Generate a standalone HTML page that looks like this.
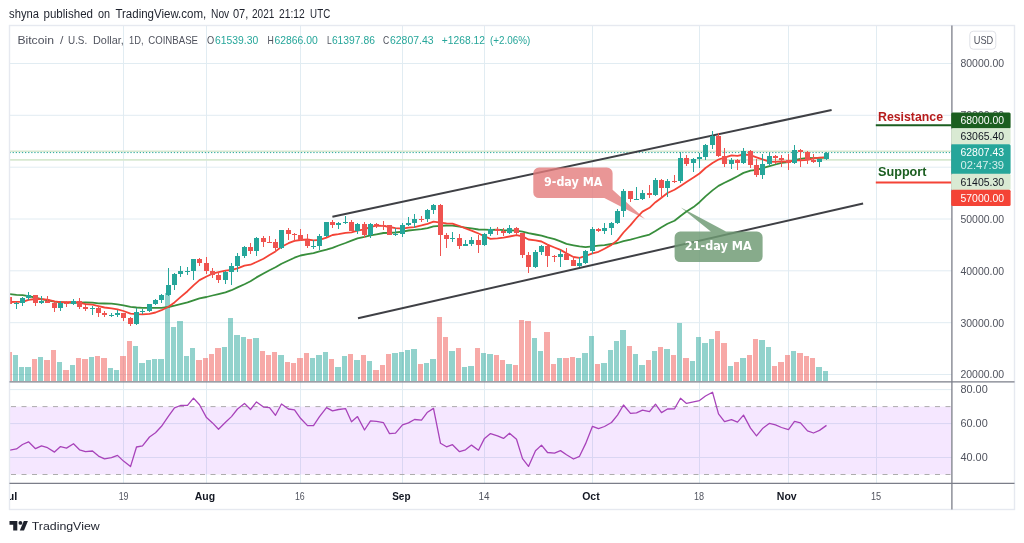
<!DOCTYPE html>
<html><head><meta charset="utf-8"><title>BTCUSD chart</title>
<style>html,body{margin:0;padding:0;background:#fff}body{width:1024px;height:543px;overflow:hidden;position:relative}</style></head>
<body>
<svg width="1024" height="543" viewBox="0 0 1024 543" style="position:absolute;left:0;top:0;font-family:'Liberation Sans', sans-serif">
<rect x="0" y="0" width="1024" height="543" fill="#fff"/>
<defs><clipPath id="cm"><rect x="10.0" y="26.0" width="941.9" height="355.9"/></clipPath><clipPath id="cr"><rect x="10.0" y="381.9" width="941.9" height="101.40000000000003"/></clipPath><clipPath id="ct"><rect x="10.0" y="483.3" width="941.9" height="26.19999999999999"/></clipPath></defs>
<line x1="123.5" y1="25.5" x2="123.5" y2="483.3" stroke="#e1ecf2" stroke-width="1"/>
<line x1="206.5" y1="25.5" x2="206.5" y2="483.3" stroke="#e1ecf2" stroke-width="1"/>
<line x1="300.5" y1="25.5" x2="300.5" y2="483.3" stroke="#e1ecf2" stroke-width="1"/>
<line x1="402.5" y1="25.5" x2="402.5" y2="483.3" stroke="#e1ecf2" stroke-width="1"/>
<line x1="484.5" y1="25.5" x2="484.5" y2="483.3" stroke="#e1ecf2" stroke-width="1"/>
<line x1="592.5" y1="25.5" x2="592.5" y2="483.3" stroke="#e1ecf2" stroke-width="1"/>
<line x1="699.5" y1="25.5" x2="699.5" y2="483.3" stroke="#e1ecf2" stroke-width="1"/>
<line x1="788.5" y1="25.5" x2="788.5" y2="483.3" stroke="#e1ecf2" stroke-width="1"/>
<line x1="876.5" y1="25.5" x2="876.5" y2="483.3" stroke="#e1ecf2" stroke-width="1"/>
<line x1="9.5" y1="374.5" x2="951.9" y2="374.5" stroke="#e1ecf2" stroke-width="1"/>
<line x1="9.5" y1="322.7" x2="951.9" y2="322.7" stroke="#e1ecf2" stroke-width="1"/>
<line x1="9.5" y1="270.8" x2="951.9" y2="270.8" stroke="#e1ecf2" stroke-width="1"/>
<line x1="9.5" y1="219.0" x2="951.9" y2="219.0" stroke="#e1ecf2" stroke-width="1"/>
<line x1="9.5" y1="167.2" x2="951.9" y2="167.2" stroke="#e1ecf2" stroke-width="1"/>
<line x1="9.5" y1="115.3" x2="951.9" y2="115.3" stroke="#e1ecf2" stroke-width="1"/>
<line x1="9.5" y1="63.5" x2="951.9" y2="63.5" stroke="#e1ecf2" stroke-width="1"/>
<line x1="9.5" y1="389.6" x2="951.9" y2="389.6" stroke="#e1ecf2" stroke-width="1"/>
<line x1="9.5" y1="423.6" x2="951.9" y2="423.6" stroke="#e1ecf2" stroke-width="1"/>
<line x1="9.5" y1="457.5" x2="951.9" y2="457.5" stroke="#e1ecf2" stroke-width="1"/>
<rect x="10.0" y="406.6" width="941.4" height="67.89999999999998" fill="#9915ff" fill-opacity="0.1"/>
<line x1="11" y1="406.6" x2="951.9" y2="406.6" stroke="#adadad" stroke-width="1" stroke-dasharray="5 5.5"/>
<line x1="11" y1="474.5" x2="951.9" y2="474.5" stroke="#adadad" stroke-width="1" stroke-dasharray="5 5.5"/>
<g clip-path="url(#cm)">
<rect x="6" y="352" width="6" height="29" fill="#ef5350" fill-opacity="0.5"/>
<rect x="13" y="355" width="5" height="26" fill="#26a69a" fill-opacity="0.5"/>
<rect x="19" y="367" width="5" height="14" fill="#26a69a" fill-opacity="0.5"/>
<rect x="25" y="367" width="6" height="14" fill="#26a69a" fill-opacity="0.5"/>
<rect x="32" y="359" width="5" height="22" fill="#ef5350" fill-opacity="0.5"/>
<rect x="38" y="357" width="5" height="24" fill="#26a69a" fill-opacity="0.5"/>
<rect x="44" y="360" width="6" height="21" fill="#ef5350" fill-opacity="0.5"/>
<rect x="51" y="350" width="5" height="31" fill="#ef5350" fill-opacity="0.5"/>
<rect x="57" y="362" width="5" height="19" fill="#26a69a" fill-opacity="0.5"/>
<rect x="63" y="370" width="6" height="11" fill="#ef5350" fill-opacity="0.5"/>
<rect x="70" y="365" width="5" height="16" fill="#26a69a" fill-opacity="0.5"/>
<rect x="76" y="358" width="5" height="23" fill="#ef5350" fill-opacity="0.5"/>
<rect x="82" y="359" width="6" height="22" fill="#ef5350" fill-opacity="0.5"/>
<rect x="89" y="357" width="5" height="24" fill="#26a69a" fill-opacity="0.5"/>
<rect x="95" y="356" width="5" height="25" fill="#ef5350" fill-opacity="0.5"/>
<rect x="101" y="358" width="6" height="23" fill="#ef5350" fill-opacity="0.5"/>
<rect x="108" y="368" width="5" height="13" fill="#26a69a" fill-opacity="0.5"/>
<rect x="114" y="370" width="5" height="11" fill="#26a69a" fill-opacity="0.5"/>
<rect x="120" y="356" width="6" height="25" fill="#ef5350" fill-opacity="0.5"/>
<rect x="127" y="341" width="5" height="40" fill="#ef5350" fill-opacity="0.5"/>
<rect x="133" y="346" width="5" height="35" fill="#26a69a" fill-opacity="0.5"/>
<rect x="139" y="363" width="6" height="18" fill="#26a69a" fill-opacity="0.5"/>
<rect x="146" y="360" width="5" height="21" fill="#26a69a" fill-opacity="0.5"/>
<rect x="152" y="359" width="5" height="22" fill="#26a69a" fill-opacity="0.5"/>
<rect x="158" y="359" width="6" height="22" fill="#26a69a" fill-opacity="0.5"/>
<rect x="165" y="293" width="5" height="88" fill="#26a69a" fill-opacity="0.5"/>
<rect x="171" y="327" width="5" height="54" fill="#26a69a" fill-opacity="0.5"/>
<rect x="177" y="321" width="6" height="60" fill="#26a69a" fill-opacity="0.5"/>
<rect x="184" y="356" width="5" height="25" fill="#26a69a" fill-opacity="0.5"/>
<rect x="190" y="348" width="5" height="33" fill="#26a69a" fill-opacity="0.5"/>
<rect x="196" y="360" width="6" height="21" fill="#ef5350" fill-opacity="0.5"/>
<rect x="203" y="358" width="5" height="23" fill="#ef5350" fill-opacity="0.5"/>
<rect x="209" y="354" width="5" height="27" fill="#ef5350" fill-opacity="0.5"/>
<rect x="215" y="348" width="6" height="33" fill="#ef5350" fill-opacity="0.5"/>
<rect x="222" y="347" width="5" height="34" fill="#26a69a" fill-opacity="0.5"/>
<rect x="228" y="318" width="5" height="63" fill="#26a69a" fill-opacity="0.5"/>
<rect x="234" y="335" width="6" height="46" fill="#26a69a" fill-opacity="0.5"/>
<rect x="241" y="337" width="5" height="44" fill="#26a69a" fill-opacity="0.5"/>
<rect x="247" y="339" width="5" height="42" fill="#ef5350" fill-opacity="0.5"/>
<rect x="253" y="338" width="6" height="43" fill="#26a69a" fill-opacity="0.5"/>
<rect x="260" y="351" width="5" height="30" fill="#ef5350" fill-opacity="0.5"/>
<rect x="266" y="355" width="5" height="26" fill="#ef5350" fill-opacity="0.5"/>
<rect x="272" y="352" width="5" height="29" fill="#ef5350" fill-opacity="0.5"/>
<rect x="278" y="355" width="6" height="26" fill="#26a69a" fill-opacity="0.5"/>
<rect x="285" y="362" width="5" height="19" fill="#ef5350" fill-opacity="0.5"/>
<rect x="291" y="363" width="5" height="18" fill="#ef5350" fill-opacity="0.5"/>
<rect x="297" y="358" width="6" height="23" fill="#ef5350" fill-opacity="0.5"/>
<rect x="304" y="353" width="5" height="28" fill="#ef5350" fill-opacity="0.5"/>
<rect x="310" y="358" width="5" height="23" fill="#26a69a" fill-opacity="0.5"/>
<rect x="316" y="355" width="6" height="26" fill="#26a69a" fill-opacity="0.5"/>
<rect x="323" y="352" width="5" height="29" fill="#26a69a" fill-opacity="0.5"/>
<rect x="329" y="359" width="5" height="22" fill="#ef5350" fill-opacity="0.5"/>
<rect x="335" y="367" width="6" height="14" fill="#26a69a" fill-opacity="0.5"/>
<rect x="342" y="356" width="5" height="25" fill="#26a69a" fill-opacity="0.5"/>
<rect x="348" y="354" width="5" height="27" fill="#ef5350" fill-opacity="0.5"/>
<rect x="354" y="360" width="6" height="21" fill="#26a69a" fill-opacity="0.5"/>
<rect x="361" y="355" width="5" height="26" fill="#ef5350" fill-opacity="0.5"/>
<rect x="367" y="361" width="5" height="20" fill="#26a69a" fill-opacity="0.5"/>
<rect x="373" y="370" width="6" height="11" fill="#ef5350" fill-opacity="0.5"/>
<rect x="380" y="365" width="5" height="16" fill="#ef5350" fill-opacity="0.5"/>
<rect x="386" y="354" width="5" height="27" fill="#ef5350" fill-opacity="0.5"/>
<rect x="392" y="353" width="6" height="28" fill="#26a69a" fill-opacity="0.5"/>
<rect x="399" y="352" width="5" height="29" fill="#26a69a" fill-opacity="0.5"/>
<rect x="405" y="350" width="5" height="31" fill="#26a69a" fill-opacity="0.5"/>
<rect x="411" y="349" width="6" height="32" fill="#26a69a" fill-opacity="0.5"/>
<rect x="418" y="364" width="5" height="17" fill="#ef5350" fill-opacity="0.5"/>
<rect x="424" y="363" width="5" height="18" fill="#26a69a" fill-opacity="0.5"/>
<rect x="430" y="359" width="6" height="22" fill="#26a69a" fill-opacity="0.5"/>
<rect x="437" y="317" width="5" height="64" fill="#ef5350" fill-opacity="0.5"/>
<rect x="443" y="337" width="5" height="44" fill="#ef5350" fill-opacity="0.5"/>
<rect x="449" y="351" width="6" height="30" fill="#26a69a" fill-opacity="0.5"/>
<rect x="456" y="348" width="5" height="33" fill="#ef5350" fill-opacity="0.5"/>
<rect x="462" y="367" width="5" height="14" fill="#26a69a" fill-opacity="0.5"/>
<rect x="468" y="366" width="6" height="15" fill="#26a69a" fill-opacity="0.5"/>
<rect x="475" y="348" width="5" height="33" fill="#ef5350" fill-opacity="0.5"/>
<rect x="481" y="353" width="5" height="28" fill="#26a69a" fill-opacity="0.5"/>
<rect x="487" y="354" width="6" height="27" fill="#26a69a" fill-opacity="0.5"/>
<rect x="494" y="355" width="5" height="26" fill="#ef5350" fill-opacity="0.5"/>
<rect x="500" y="360" width="5" height="21" fill="#ef5350" fill-opacity="0.5"/>
<rect x="506" y="364" width="6" height="17" fill="#26a69a" fill-opacity="0.5"/>
<rect x="513" y="365" width="5" height="16" fill="#ef5350" fill-opacity="0.5"/>
<rect x="519" y="320" width="5" height="61" fill="#ef5350" fill-opacity="0.5"/>
<rect x="525" y="321" width="6" height="60" fill="#ef5350" fill-opacity="0.5"/>
<rect x="532" y="338" width="5" height="43" fill="#26a69a" fill-opacity="0.5"/>
<rect x="538" y="351" width="5" height="30" fill="#26a69a" fill-opacity="0.5"/>
<rect x="544" y="332" width="6" height="49" fill="#ef5350" fill-opacity="0.5"/>
<rect x="551" y="364" width="5" height="17" fill="#ef5350" fill-opacity="0.5"/>
<rect x="557" y="358" width="5" height="23" fill="#26a69a" fill-opacity="0.5"/>
<rect x="563" y="358" width="6" height="23" fill="#ef5350" fill-opacity="0.5"/>
<rect x="570" y="357" width="5" height="24" fill="#ef5350" fill-opacity="0.5"/>
<rect x="576" y="358" width="5" height="23" fill="#26a69a" fill-opacity="0.5"/>
<rect x="582" y="353" width="6" height="28" fill="#26a69a" fill-opacity="0.5"/>
<rect x="589" y="336" width="5" height="45" fill="#26a69a" fill-opacity="0.5"/>
<rect x="595" y="364" width="5" height="17" fill="#ef5350" fill-opacity="0.5"/>
<rect x="601" y="363" width="6" height="18" fill="#26a69a" fill-opacity="0.5"/>
<rect x="608" y="350" width="5" height="31" fill="#26a69a" fill-opacity="0.5"/>
<rect x="614" y="341" width="5" height="40" fill="#26a69a" fill-opacity="0.5"/>
<rect x="620" y="330" width="6" height="51" fill="#26a69a" fill-opacity="0.5"/>
<rect x="627" y="346" width="5" height="35" fill="#ef5350" fill-opacity="0.5"/>
<rect x="633" y="354" width="5" height="27" fill="#26a69a" fill-opacity="0.5"/>
<rect x="639" y="365" width="6" height="16" fill="#26a69a" fill-opacity="0.5"/>
<rect x="646" y="360" width="5" height="21" fill="#ef5350" fill-opacity="0.5"/>
<rect x="652" y="351" width="5" height="30" fill="#26a69a" fill-opacity="0.5"/>
<rect x="658" y="347" width="5" height="34" fill="#ef5350" fill-opacity="0.5"/>
<rect x="664" y="349" width="6" height="32" fill="#26a69a" fill-opacity="0.5"/>
<rect x="671" y="355" width="5" height="26" fill="#ef5350" fill-opacity="0.5"/>
<rect x="677" y="323" width="5" height="58" fill="#26a69a" fill-opacity="0.5"/>
<rect x="683" y="358" width="6" height="23" fill="#ef5350" fill-opacity="0.5"/>
<rect x="690" y="361" width="5" height="20" fill="#26a69a" fill-opacity="0.5"/>
<rect x="696" y="337" width="5" height="44" fill="#26a69a" fill-opacity="0.5"/>
<rect x="702" y="343" width="6" height="38" fill="#26a69a" fill-opacity="0.5"/>
<rect x="709" y="339" width="5" height="42" fill="#26a69a" fill-opacity="0.5"/>
<rect x="715" y="331" width="5" height="50" fill="#ef5350" fill-opacity="0.5"/>
<rect x="721" y="343" width="6" height="38" fill="#ef5350" fill-opacity="0.5"/>
<rect x="728" y="366" width="5" height="15" fill="#26a69a" fill-opacity="0.5"/>
<rect x="734" y="362" width="5" height="19" fill="#ef5350" fill-opacity="0.5"/>
<rect x="740" y="358" width="6" height="23" fill="#26a69a" fill-opacity="0.5"/>
<rect x="747" y="355" width="5" height="26" fill="#ef5350" fill-opacity="0.5"/>
<rect x="753" y="339" width="5" height="42" fill="#ef5350" fill-opacity="0.5"/>
<rect x="759" y="340" width="6" height="41" fill="#26a69a" fill-opacity="0.5"/>
<rect x="766" y="347" width="5" height="34" fill="#26a69a" fill-opacity="0.5"/>
<rect x="772" y="366" width="5" height="15" fill="#ef5350" fill-opacity="0.5"/>
<rect x="778" y="362" width="6" height="19" fill="#ef5350" fill-opacity="0.5"/>
<rect x="785" y="355" width="5" height="26" fill="#ef5350" fill-opacity="0.5"/>
<rect x="791" y="351" width="5" height="30" fill="#26a69a" fill-opacity="0.5"/>
<rect x="797" y="353" width="6" height="28" fill="#ef5350" fill-opacity="0.5"/>
<rect x="804" y="356" width="5" height="25" fill="#ef5350" fill-opacity="0.5"/>
<rect x="810" y="358" width="5" height="23" fill="#ef5350" fill-opacity="0.5"/>
<rect x="816" y="367" width="6" height="14" fill="#26a69a" fill-opacity="0.5"/>
<rect x="823" y="371" width="5" height="10" fill="#26a69a" fill-opacity="0.5"/>
</g>
<line x1="9.5" y1="151.3" x2="951.9" y2="151.3" stroke="#d7e8d0" stroke-width="1.6"/>
<line x1="9.5" y1="159.9" x2="951.9" y2="159.9" stroke="#d7e8d0" stroke-width="1.6"/>
<line x1="9.5" y1="152.6" x2="951.9" y2="152.6" stroke="#26a69a" stroke-width="1" stroke-dasharray="1.3 1.8"/>
<line x1="332.4" y1="216.7" x2="831.6" y2="110" stroke="#3f4045" stroke-width="2" stroke-linecap="butt"/>
<line x1="358" y1="318.3" x2="863.1" y2="203.5" stroke="#3f4045" stroke-width="2" stroke-linecap="butt"/>
<path d="M539 167.6 H606.9 a5.7 5.7 0 0 1 5.7 5.7 V189.8 L645 219 L604.3 198.1 H539 a5.7 5.7 0 0 1 -5.7 -5.7 V173.3 a5.7 5.7 0 0 1 5.7 -5.7 Z" fill="#e37c7c" fill-opacity="0.8"/>
<text x="544" y="186" font-size="12" font-weight="bold" fill="#fff" style="font-family:'DejaVu Sans','Liberation Sans', sans-serif" textLength="58.4" lengthAdjust="spacingAndGlyphs">9-day MA</text>
<path d="M680.3 231.6 H710.8 L680.9 207.5 L726 231.6 H756.9 a5.7 5.7 0 0 1 5.7 5.7 V256.4 a5.7 5.7 0 0 1 -5.7 5.7 H680.3 a5.7 5.7 0 0 1 -5.7 -5.7 V237.3 a5.7 5.7 0 0 1 5.7 -5.7 Z" fill="#6f9a73" fill-opacity="0.83"/>
<text x="684.8" y="250" font-size="12" font-weight="bold" fill="#fff" style="font-family:'DejaVu Sans','Liberation Sans', sans-serif" textLength="66.9" lengthAdjust="spacingAndGlyphs">21-day MA</text>
<g clip-path="url(#cm)">
<path d="M9.5 294.1 L16.5 294.9 L22.5 295.1 L28.5 296.1 L35.5 297.7 L41.5 299.2 L47.5 300.3 L54.5 301.6 L60.5 302.1 L66.5 302.6 L73.5 302.9 L79.5 302.6 L85.5 302.5 L92.5 302.7 L98.5 303.4 L104.5 303.5 L111.5 303.6 L117.5 304.4 L123.5 305.3 L130.5 306.8 L136.5 307.5 L142.5 307.8 L149.5 307.8 L155.5 307.9 L161.5 307.9 L168.5 307.0 L174.5 305.7 L180.5 304.2 L187.5 302.4 L193.5 300.4 L199.5 298.4 L206.5 297.0 L212.5 295.5 L218.5 294.1 L225.5 292.4 L231.5 290.2 L237.5 287.4 L244.5 284.2 L250.5 281.2 L256.5 277.4 L263.5 273.5 L269.5 270.2 L275.5 267.2 L281.5 263.7 L288.5 260.5 L294.5 257.7 L300.5 255.5 L307.5 254.2 L313.5 253.1 L319.5 251.4 L326.5 249.7 L332.5 247.8 L338.5 245.5 L345.5 243.0 L351.5 240.6 L357.5 238.3 L364.5 236.9 L370.5 235.3 L376.5 234.3 L383.5 233.0 L389.5 232.9 L395.5 232.5 L402.5 231.7 L408.5 230.5 L414.5 229.9 L421.5 229.2 L427.5 228.1 L433.5 226.4 L440.5 225.8 L446.5 225.5 L452.5 225.6 L459.5 226.7 L465.5 227.6 L471.5 228.4 L478.5 229.5 L484.5 229.7 L490.5 229.9 L497.5 229.7 L503.5 230.1 L509.5 230.3 L516.5 230.6 L522.5 231.6 L528.5 233.2 L535.5 234.5 L541.5 235.6 L547.5 237.4 L554.5 239.2 L560.5 241.3 L566.5 243.9 L573.5 245.3 L579.5 246.4 L585.5 247.1 L592.5 246.3 L598.5 245.6 L604.5 245.1 L611.5 244.0 L617.5 243.0 L623.5 241.2 L630.5 239.7 L636.5 238.0 L642.5 236.4 L649.5 234.6 L655.5 231.0 L661.5 227.2 L667.5 223.8 L674.5 220.7 L680.5 216.0 L686.5 211.6 L693.5 207.1 L699.5 202.2 L705.5 196.4 L712.5 190.4 L718.5 185.9 L724.5 182.8 L731.5 179.4 L737.5 176.3 L743.5 172.9 L750.5 170.7 L756.5 169.9 L762.5 168.2 L769.5 166.2 L775.5 164.5 L781.5 162.9 L788.5 162.0 L794.5 160.2 L800.5 158.9 L807.5 157.9 L813.5 158.1 L819.5 157.9 L826.5 157.6" fill="none" stroke="#388e3c" stroke-width="1.8" stroke-linejoin="round"/>
<path d="M9.5 302.0 L16.5 301.9 L22.5 301.9 L28.5 299.8 L35.5 299.0 L41.5 299.2 L47.5 299.6 L54.5 301.4 L60.5 302.1 L66.5 302.1 L73.5 301.8 L79.5 302.7 L85.5 304.2 L92.5 304.7 L98.5 306.1 L104.5 307.5 L111.5 308.3 L117.5 309.4 L123.5 311.0 L130.5 313.6 L136.5 314.1 L142.5 314.4 L149.5 313.9 L155.5 312.5 L161.5 310.2 L168.5 306.8 L174.5 302.4 L180.5 297.1 L187.5 291.2 L193.5 285.4 L199.5 280.1 L206.5 276.5 L212.5 273.7 L218.5 272.1 L225.5 270.7 L231.5 269.9 L237.5 268.3 L244.5 265.6 L250.5 264.7 L256.5 262.0 L263.5 258.7 L269.5 255.0 L275.5 251.4 L281.5 246.8 L288.5 243.2 L294.5 240.8 L300.5 240.0 L307.5 239.5 L313.5 240.4 L319.5 239.8 L326.5 237.6 L332.5 235.0 L338.5 234.2 L345.5 232.8 L351.5 232.4 L357.5 230.6 L364.5 229.4 L370.5 226.9 L376.5 225.6 L383.5 225.9 L389.5 227.0 L395.5 228.2 L402.5 228.6 L408.5 227.7 L414.5 227.1 L421.5 225.4 L427.5 223.8 L433.5 221.6 L440.5 222.7 L446.5 223.3 L452.5 223.7 L459.5 226.0 L465.5 228.4 L471.5 230.6 L478.5 233.5 L484.5 236.2 L490.5 238.8 L497.5 238.3 L503.5 237.6 L509.5 236.5 L516.5 235.1 L522.5 236.4 L528.5 239.5 L535.5 240.3 L541.5 241.5 L547.5 244.6 L554.5 247.5 L560.5 249.9 L566.5 253.4 L573.5 257.0 L579.5 257.8 L585.5 256.0 L592.5 253.4 L598.5 251.8 L604.5 248.7 L611.5 244.9 L617.5 240.1 L623.5 232.5 L630.5 225.2 L636.5 218.0 L642.5 211.6 L649.5 207.8 L655.5 202.2 L661.5 197.7 L667.5 193.0 L674.5 189.7 L680.5 185.9 L686.5 182.0 L693.5 177.6 L699.5 173.5 L705.5 168.0 L712.5 163.1 L718.5 159.5 L724.5 157.6 L731.5 155.3 L737.5 155.9 L743.5 154.5 L750.5 155.2 L756.5 157.3 L762.5 159.4 L769.5 161.6 L775.5 161.8 L781.5 161.4 L788.5 161.6 L794.5 160.3 L800.5 160.4 L807.5 159.8 L813.5 158.3 L819.5 157.7 L826.5 157.4" fill="none" stroke="#f44336" stroke-width="1.8" stroke-linejoin="round"/>
<rect x="9" y="296" width="1" height="13" fill="#ef5350"/>
<rect x="7" y="297" width="5" height="7" fill="#ef5350"/>
<rect x="16" y="302" width="1" height="7" fill="#26a69a"/>
<rect x="14" y="303" width="5" height="1" fill="#26a69a"/>
<rect x="22" y="297" width="1" height="9" fill="#26a69a"/>
<rect x="20" y="298" width="5" height="5" fill="#26a69a"/>
<rect x="28" y="292" width="1" height="8" fill="#26a69a"/>
<rect x="26" y="295" width="5" height="3" fill="#26a69a"/>
<rect x="35" y="295" width="1" height="11" fill="#ef5350"/>
<rect x="33" y="295" width="5" height="8" fill="#ef5350"/>
<rect x="41" y="296" width="1" height="8" fill="#26a69a"/>
<rect x="39" y="301" width="5" height="2" fill="#26a69a"/>
<rect x="47" y="296" width="1" height="7" fill="#ef5350"/>
<rect x="45" y="301" width="5" height="2" fill="#ef5350"/>
<rect x="54" y="302" width="1" height="10" fill="#ef5350"/>
<rect x="52" y="303" width="5" height="5" fill="#ef5350"/>
<rect x="60" y="301" width="1" height="10" fill="#26a69a"/>
<rect x="58" y="303" width="5" height="5" fill="#26a69a"/>
<rect x="66" y="301" width="1" height="6" fill="#ef5350"/>
<rect x="64" y="303" width="5" height="1" fill="#ef5350"/>
<rect x="73" y="299" width="1" height="6" fill="#26a69a"/>
<rect x="71" y="301" width="5" height="3" fill="#26a69a"/>
<rect x="79" y="298" width="1" height="11" fill="#ef5350"/>
<rect x="77" y="301" width="5" height="6" fill="#ef5350"/>
<rect x="85" y="305" width="1" height="6" fill="#ef5350"/>
<rect x="83" y="307" width="5" height="2" fill="#ef5350"/>
<rect x="92" y="306" width="1" height="9" fill="#26a69a"/>
<rect x="90" y="308" width="5" height="1" fill="#26a69a"/>
<rect x="98" y="306" width="1" height="11" fill="#ef5350"/>
<rect x="96" y="308" width="5" height="5" fill="#ef5350"/>
<rect x="104" y="311" width="1" height="6" fill="#ef5350"/>
<rect x="102" y="313" width="5" height="2" fill="#ef5350"/>
<rect x="111" y="313" width="1" height="4" fill="#26a69a"/>
<rect x="109" y="315" width="5" height="1" fill="#26a69a"/>
<rect x="117" y="310" width="1" height="7" fill="#26a69a"/>
<rect x="115" y="313" width="5" height="2" fill="#26a69a"/>
<rect x="123" y="313" width="1" height="8" fill="#ef5350"/>
<rect x="121" y="313" width="5" height="5" fill="#ef5350"/>
<rect x="130" y="317" width="1" height="9" fill="#ef5350"/>
<rect x="128" y="318" width="5" height="6" fill="#ef5350"/>
<rect x="136" y="308" width="1" height="17" fill="#26a69a"/>
<rect x="134" y="312" width="5" height="12" fill="#26a69a"/>
<rect x="142" y="309" width="1" height="5" fill="#26a69a"/>
<rect x="140" y="311" width="5" height="1" fill="#26a69a"/>
<rect x="149" y="304" width="1" height="8" fill="#26a69a"/>
<rect x="147" y="304" width="5" height="7" fill="#26a69a"/>
<rect x="155" y="299" width="1" height="6" fill="#26a69a"/>
<rect x="153" y="300" width="5" height="4" fill="#26a69a"/>
<rect x="161" y="294" width="1" height="9" fill="#26a69a"/>
<rect x="159" y="295" width="5" height="5" fill="#26a69a"/>
<rect x="168" y="268" width="1" height="28" fill="#26a69a"/>
<rect x="166" y="285" width="5" height="10" fill="#26a69a"/>
<rect x="174" y="273" width="1" height="17" fill="#26a69a"/>
<rect x="172" y="274" width="5" height="11" fill="#26a69a"/>
<rect x="180" y="266" width="1" height="11" fill="#26a69a"/>
<rect x="178" y="271" width="5" height="3" fill="#26a69a"/>
<rect x="187" y="267" width="1" height="8" fill="#26a69a"/>
<rect x="185" y="271" width="5" height="1" fill="#26a69a"/>
<rect x="193" y="259" width="1" height="21" fill="#26a69a"/>
<rect x="191" y="259" width="5" height="12" fill="#26a69a"/>
<rect x="199" y="258" width="1" height="8" fill="#ef5350"/>
<rect x="197" y="259" width="5" height="4" fill="#ef5350"/>
<rect x="206" y="257" width="1" height="17" fill="#ef5350"/>
<rect x="204" y="263" width="5" height="8" fill="#ef5350"/>
<rect x="212" y="268" width="1" height="10" fill="#ef5350"/>
<rect x="210" y="271" width="5" height="4" fill="#ef5350"/>
<rect x="218" y="272" width="1" height="11" fill="#ef5350"/>
<rect x="216" y="275" width="5" height="5" fill="#ef5350"/>
<rect x="225" y="271" width="1" height="13" fill="#26a69a"/>
<rect x="223" y="272" width="5" height="8" fill="#26a69a"/>
<rect x="231" y="263" width="1" height="22" fill="#26a69a"/>
<rect x="229" y="266" width="5" height="6" fill="#26a69a"/>
<rect x="237" y="253" width="1" height="19" fill="#26a69a"/>
<rect x="235" y="256" width="5" height="10" fill="#26a69a"/>
<rect x="244" y="246" width="1" height="12" fill="#26a69a"/>
<rect x="242" y="247" width="5" height="9" fill="#26a69a"/>
<rect x="250" y="243" width="1" height="11" fill="#ef5350"/>
<rect x="248" y="247" width="5" height="4" fill="#ef5350"/>
<rect x="256" y="237" width="1" height="19" fill="#26a69a"/>
<rect x="254" y="238" width="5" height="13" fill="#26a69a"/>
<rect x="263" y="236" width="1" height="11" fill="#ef5350"/>
<rect x="261" y="238" width="5" height="4" fill="#ef5350"/>
<rect x="269" y="236" width="1" height="7" fill="#ef5350"/>
<rect x="267" y="242" width="5" height="1" fill="#ef5350"/>
<rect x="275" y="239" width="1" height="13" fill="#ef5350"/>
<rect x="273" y="242" width="5" height="6" fill="#ef5350"/>
<rect x="281" y="230" width="1" height="19" fill="#26a69a"/>
<rect x="279" y="230" width="5" height="18" fill="#26a69a"/>
<rect x="288" y="228" width="1" height="12" fill="#ef5350"/>
<rect x="286" y="230" width="5" height="4" fill="#ef5350"/>
<rect x="294" y="233" width="1" height="9" fill="#ef5350"/>
<rect x="292" y="234" width="5" height="1" fill="#ef5350"/>
<rect x="300" y="229" width="1" height="12" fill="#ef5350"/>
<rect x="298" y="235" width="5" height="5" fill="#ef5350"/>
<rect x="307" y="234" width="1" height="14" fill="#ef5350"/>
<rect x="305" y="240" width="5" height="6" fill="#ef5350"/>
<rect x="313" y="240" width="1" height="9" fill="#26a69a"/>
<rect x="311" y="246" width="5" height="1" fill="#26a69a"/>
<rect x="319" y="234" width="1" height="16" fill="#26a69a"/>
<rect x="317" y="236" width="5" height="10" fill="#26a69a"/>
<rect x="326" y="222" width="1" height="15" fill="#26a69a"/>
<rect x="324" y="222" width="5" height="14" fill="#26a69a"/>
<rect x="332" y="220" width="1" height="8" fill="#ef5350"/>
<rect x="330" y="222" width="5" height="3" fill="#ef5350"/>
<rect x="338" y="222" width="1" height="7" fill="#26a69a"/>
<rect x="336" y="223" width="5" height="2" fill="#26a69a"/>
<rect x="345" y="216" width="1" height="8" fill="#26a69a"/>
<rect x="343" y="222" width="5" height="1" fill="#26a69a"/>
<rect x="351" y="220" width="1" height="11" fill="#ef5350"/>
<rect x="349" y="222" width="5" height="9" fill="#ef5350"/>
<rect x="357" y="223" width="1" height="11" fill="#26a69a"/>
<rect x="355" y="224" width="5" height="7" fill="#26a69a"/>
<rect x="364" y="222" width="1" height="16" fill="#ef5350"/>
<rect x="362" y="224" width="5" height="11" fill="#ef5350"/>
<rect x="370" y="223" width="1" height="15" fill="#26a69a"/>
<rect x="368" y="224" width="5" height="11" fill="#26a69a"/>
<rect x="376" y="223" width="1" height="5" fill="#ef5350"/>
<rect x="374" y="224" width="5" height="1" fill="#ef5350"/>
<rect x="383" y="221" width="1" height="9" fill="#ef5350"/>
<rect x="381" y="225" width="5" height="1" fill="#ef5350"/>
<rect x="389" y="225" width="1" height="10" fill="#ef5350"/>
<rect x="387" y="225" width="5" height="10" fill="#ef5350"/>
<rect x="395" y="228" width="1" height="8" fill="#26a69a"/>
<rect x="393" y="234" width="5" height="1" fill="#26a69a"/>
<rect x="402" y="223" width="1" height="14" fill="#26a69a"/>
<rect x="400" y="225" width="5" height="9" fill="#26a69a"/>
<rect x="408" y="217" width="1" height="9" fill="#26a69a"/>
<rect x="406" y="223" width="5" height="2" fill="#26a69a"/>
<rect x="414" y="214" width="1" height="14" fill="#26a69a"/>
<rect x="412" y="219" width="5" height="4" fill="#26a69a"/>
<rect x="421" y="216" width="1" height="6" fill="#ef5350"/>
<rect x="419" y="219" width="5" height="1" fill="#ef5350"/>
<rect x="427" y="209" width="1" height="13" fill="#26a69a"/>
<rect x="425" y="210" width="5" height="9" fill="#26a69a"/>
<rect x="433" y="204" width="1" height="10" fill="#26a69a"/>
<rect x="431" y="205" width="5" height="5" fill="#26a69a"/>
<rect x="440" y="204" width="1" height="52" fill="#ef5350"/>
<rect x="438" y="205" width="5" height="30" fill="#ef5350"/>
<rect x="446" y="233" width="1" height="15" fill="#ef5350"/>
<rect x="444" y="235" width="5" height="4" fill="#ef5350"/>
<rect x="452" y="232" width="1" height="10" fill="#26a69a"/>
<rect x="450" y="238" width="5" height="1" fill="#26a69a"/>
<rect x="459" y="234" width="1" height="15" fill="#ef5350"/>
<rect x="457" y="238" width="5" height="8" fill="#ef5350"/>
<rect x="465" y="240" width="1" height="6" fill="#26a69a"/>
<rect x="463" y="244" width="5" height="2" fill="#26a69a"/>
<rect x="471" y="237" width="1" height="9" fill="#26a69a"/>
<rect x="469" y="240" width="5" height="4" fill="#26a69a"/>
<rect x="478" y="235" width="1" height="18" fill="#ef5350"/>
<rect x="476" y="240" width="5" height="5" fill="#ef5350"/>
<rect x="484" y="233" width="1" height="13" fill="#26a69a"/>
<rect x="482" y="234" width="5" height="11" fill="#26a69a"/>
<rect x="490" y="227" width="1" height="9" fill="#26a69a"/>
<rect x="488" y="229" width="5" height="5" fill="#26a69a"/>
<rect x="497" y="227" width="1" height="8" fill="#ef5350"/>
<rect x="495" y="229" width="5" height="2" fill="#ef5350"/>
<rect x="503" y="228" width="1" height="8" fill="#ef5350"/>
<rect x="501" y="231" width="5" height="2" fill="#ef5350"/>
<rect x="509" y="225" width="1" height="9" fill="#26a69a"/>
<rect x="507" y="228" width="5" height="5" fill="#26a69a"/>
<rect x="516" y="227" width="1" height="8" fill="#ef5350"/>
<rect x="514" y="228" width="5" height="5" fill="#ef5350"/>
<rect x="522" y="233" width="1" height="25" fill="#ef5350"/>
<rect x="520" y="233" width="5" height="22" fill="#ef5350"/>
<rect x="528" y="252" width="1" height="21" fill="#ef5350"/>
<rect x="526" y="255" width="5" height="12" fill="#ef5350"/>
<rect x="535" y="250" width="1" height="18" fill="#26a69a"/>
<rect x="533" y="252" width="5" height="15" fill="#26a69a"/>
<rect x="541" y="245" width="1" height="10" fill="#26a69a"/>
<rect x="539" y="246" width="5" height="6" fill="#26a69a"/>
<rect x="547" y="244" width="1" height="23" fill="#ef5350"/>
<rect x="545" y="246" width="5" height="10" fill="#ef5350"/>
<rect x="554" y="255" width="1" height="7" fill="#ef5350"/>
<rect x="552" y="256" width="5" height="1" fill="#ef5350"/>
<rect x="560" y="250" width="1" height="17" fill="#26a69a"/>
<rect x="558" y="254" width="5" height="3" fill="#26a69a"/>
<rect x="566" y="248" width="1" height="12" fill="#ef5350"/>
<rect x="564" y="254" width="5" height="6" fill="#ef5350"/>
<rect x="573" y="256" width="1" height="10" fill="#ef5350"/>
<rect x="571" y="260" width="5" height="6" fill="#ef5350"/>
<rect x="579" y="257" width="1" height="10" fill="#26a69a"/>
<rect x="577" y="263" width="5" height="3" fill="#26a69a"/>
<rect x="585" y="250" width="1" height="14" fill="#26a69a"/>
<rect x="583" y="251" width="5" height="12" fill="#26a69a"/>
<rect x="592" y="227" width="1" height="27" fill="#26a69a"/>
<rect x="590" y="229" width="5" height="22" fill="#26a69a"/>
<rect x="598" y="228" width="1" height="4" fill="#ef5350"/>
<rect x="596" y="229" width="5" height="2" fill="#ef5350"/>
<rect x="604" y="223" width="1" height="11" fill="#26a69a"/>
<rect x="602" y="228" width="5" height="3" fill="#26a69a"/>
<rect x="611" y="222" width="1" height="13" fill="#26a69a"/>
<rect x="609" y="223" width="5" height="5" fill="#26a69a"/>
<rect x="617" y="209" width="1" height="15" fill="#26a69a"/>
<rect x="615" y="211" width="5" height="12" fill="#26a69a"/>
<rect x="623" y="189" width="1" height="28" fill="#26a69a"/>
<rect x="621" y="191" width="5" height="20" fill="#26a69a"/>
<rect x="630" y="191" width="1" height="11" fill="#ef5350"/>
<rect x="628" y="191" width="5" height="8" fill="#ef5350"/>
<rect x="636" y="187" width="1" height="13" fill="#26a69a"/>
<rect x="634" y="199" width="5" height="1" fill="#26a69a"/>
<rect x="642" y="190" width="1" height="10" fill="#26a69a"/>
<rect x="640" y="193" width="5" height="6" fill="#26a69a"/>
<rect x="649" y="185" width="1" height="13" fill="#ef5350"/>
<rect x="647" y="193" width="5" height="2" fill="#ef5350"/>
<rect x="655" y="178" width="1" height="18" fill="#26a69a"/>
<rect x="653" y="180" width="5" height="15" fill="#26a69a"/>
<rect x="661" y="179" width="1" height="19" fill="#ef5350"/>
<rect x="659" y="180" width="5" height="8" fill="#ef5350"/>
<rect x="667" y="179" width="1" height="18" fill="#26a69a"/>
<rect x="665" y="181" width="5" height="7" fill="#26a69a"/>
<rect x="674" y="175" width="1" height="8" fill="#ef5350"/>
<rect x="672" y="181" width="5" height="1" fill="#ef5350"/>
<rect x="680" y="152" width="1" height="31" fill="#26a69a"/>
<rect x="678" y="158" width="5" height="23" fill="#26a69a"/>
<rect x="686" y="155" width="1" height="11" fill="#ef5350"/>
<rect x="684" y="158" width="5" height="6" fill="#ef5350"/>
<rect x="693" y="158" width="1" height="14" fill="#26a69a"/>
<rect x="691" y="159" width="5" height="4" fill="#26a69a"/>
<rect x="699" y="153" width="1" height="15" fill="#26a69a"/>
<rect x="697" y="157" width="5" height="2" fill="#26a69a"/>
<rect x="705" y="144" width="1" height="16" fill="#26a69a"/>
<rect x="703" y="145" width="5" height="12" fill="#26a69a"/>
<rect x="712" y="131" width="1" height="18" fill="#26a69a"/>
<rect x="710" y="136" width="5" height="9" fill="#26a69a"/>
<rect x="718" y="133" width="1" height="24" fill="#ef5350"/>
<rect x="716" y="136" width="5" height="20" fill="#ef5350"/>
<rect x="724" y="148" width="1" height="19" fill="#ef5350"/>
<rect x="722" y="156" width="5" height="8" fill="#ef5350"/>
<rect x="731" y="158" width="1" height="11" fill="#26a69a"/>
<rect x="729" y="160" width="5" height="4" fill="#26a69a"/>
<rect x="737" y="159" width="1" height="11" fill="#ef5350"/>
<rect x="735" y="160" width="5" height="3" fill="#ef5350"/>
<rect x="743" y="148" width="1" height="16" fill="#26a69a"/>
<rect x="741" y="151" width="5" height="12" fill="#26a69a"/>
<rect x="750" y="150" width="1" height="18" fill="#ef5350"/>
<rect x="748" y="151" width="5" height="14" fill="#ef5350"/>
<rect x="756" y="159" width="1" height="18" fill="#ef5350"/>
<rect x="754" y="165" width="5" height="10" fill="#ef5350"/>
<rect x="762" y="154" width="1" height="25" fill="#26a69a"/>
<rect x="760" y="164" width="5" height="11" fill="#26a69a"/>
<rect x="769" y="152" width="1" height="14" fill="#26a69a"/>
<rect x="767" y="156" width="5" height="8" fill="#26a69a"/>
<rect x="775" y="155" width="1" height="9" fill="#ef5350"/>
<rect x="773" y="156" width="5" height="2" fill="#ef5350"/>
<rect x="781" y="155" width="1" height="12" fill="#ef5350"/>
<rect x="779" y="158" width="5" height="2" fill="#ef5350"/>
<rect x="788" y="154" width="1" height="16" fill="#ef5350"/>
<rect x="786" y="160" width="5" height="3" fill="#ef5350"/>
<rect x="794" y="145" width="1" height="19" fill="#26a69a"/>
<rect x="792" y="150" width="5" height="13" fill="#26a69a"/>
<rect x="800" y="149" width="1" height="18" fill="#ef5350"/>
<rect x="798" y="150" width="5" height="2" fill="#ef5350"/>
<rect x="807" y="151" width="1" height="13" fill="#ef5350"/>
<rect x="805" y="152" width="5" height="8" fill="#ef5350"/>
<rect x="813" y="154" width="1" height="9" fill="#ef5350"/>
<rect x="811" y="160" width="5" height="2" fill="#ef5350"/>
<rect x="819" y="159" width="1" height="8" fill="#26a69a"/>
<rect x="817" y="159" width="5" height="3" fill="#26a69a"/>
<rect x="826" y="152" width="1" height="8" fill="#26a69a"/>
<rect x="824" y="153" width="5" height="6" fill="#26a69a"/>
</g>
<line x1="875.8" y1="125.3" x2="951.9" y2="125.3" stroke="#1b5e20" stroke-width="2"/>
<line x1="875.8" y1="182.6" x2="951.9" y2="182.6" stroke="#f44336" stroke-width="2"/>
<text x="878" y="121.3" font-size="12.5" font-weight="bold" fill="#b71c1c" textLength="65" lengthAdjust="spacingAndGlyphs">Resistance</text>
<text x="878" y="175.6" font-size="12.5" font-weight="bold" fill="#1b5e20" textLength="48.5" lengthAdjust="spacingAndGlyphs">Support</text>
<g clip-path="url(#cr)">
<path d="M9.5 450.2 L16.5 448.9 L22.5 444.5 L28.5 441.8 L35.5 448.7 L41.5 445.8 L47.5 447.7 L54.5 452.1 L60.5 446.6 L66.5 448.1 L73.5 443.7 L79.5 449.8 L85.5 451.7 L92.5 451.0 L98.5 456.1 L104.5 458.8 L111.5 457.7 L117.5 455.4 L123.5 461.1 L130.5 466.6 L136.5 447.0 L142.5 445.8 L149.5 437.0 L155.5 432.8 L161.5 426.3 L168.5 416.2 L174.5 407.8 L180.5 405.5 L187.5 405.3 L193.5 398.1 L199.5 404.8 L206.5 417.6 L212.5 422.9 L218.5 429.2 L225.5 422.3 L231.5 416.6 L237.5 409.0 L244.5 403.4 L250.5 409.5 L256.5 401.9 L263.5 407.1 L269.5 407.6 L275.5 415.3 L281.5 404.0 L288.5 409.0 L294.5 409.9 L300.5 418.3 L307.5 425.6 L313.5 425.6 L319.5 416.6 L326.5 407.6 L332.5 410.9 L338.5 409.5 L345.5 408.6 L351.5 421.8 L357.5 416.6 L364.5 430.0 L370.5 420.8 L376.5 421.4 L383.5 422.7 L389.5 433.6 L395.5 433.2 L402.5 424.8 L408.5 422.9 L414.5 419.5 L421.5 420.2 L427.5 412.2 L433.5 408.4 L440.5 443.3 L446.5 446.8 L452.5 444.7 L459.5 451.7 L465.5 449.8 L471.5 445.1 L478.5 450.2 L484.5 438.4 L490.5 433.6 L497.5 435.9 L503.5 438.4 L509.5 433.2 L516.5 439.3 L522.5 458.6 L528.5 466.4 L535.5 450.8 L541.5 445.1 L547.5 452.5 L554.5 453.1 L560.5 450.6 L566.5 454.8 L573.5 459.0 L579.5 456.3 L585.5 443.9 L592.5 426.3 L598.5 428.6 L604.5 426.5 L611.5 422.5 L617.5 415.1 L623.5 405.0 L630.5 413.4 L636.5 412.8 L642.5 410.1 L649.5 411.6 L655.5 404.2 L661.5 412.6 L667.5 409.0 L674.5 408.8 L680.5 398.3 L686.5 403.4 L693.5 401.9 L699.5 400.6 L705.5 396.0 L712.5 392.2 L718.5 413.9 L724.5 421.6 L731.5 419.7 L737.5 422.1 L743.5 415.1 L750.5 428.1 L756.5 435.9 L762.5 428.6 L769.5 423.3 L775.5 424.8 L781.5 427.5 L788.5 429.6 L794.5 421.4 L800.5 422.9 L807.5 430.9 L813.5 433.0 L819.5 430.4 L826.5 425.4" fill="none" stroke="#a843ba" stroke-width="1.3" stroke-linejoin="round"/>
</g>
<rect x="9.5" y="25.5" width="1005.0" height="484.0" fill="none" stroke="#e6e9f0" stroke-width="1.4"/>
<line x1="951.9" y1="25.5" x2="951.9" y2="509.5" stroke="#7b7e89" stroke-width="1.3"/>
<line x1="9.5" y1="381.9" x2="1014.5" y2="381.9" stroke="#7b7e89" stroke-width="1.3"/>
<line x1="9.5" y1="483.3" x2="1014.5" y2="483.3" stroke="#7b7e89" stroke-width="1.3"/>
<text x="960.5" y="67.4" font-size="11" fill="#50535e" textLength="43.6" lengthAdjust="spacingAndGlyphs">80000.00</text>
<text x="960.5" y="119.2" font-size="11" fill="#50535e" textLength="43.6" lengthAdjust="spacingAndGlyphs">70000.00</text>
<text x="960.5" y="222.9" font-size="11" fill="#50535e" textLength="43.6" lengthAdjust="spacingAndGlyphs">50000.00</text>
<text x="960.5" y="274.7" font-size="11" fill="#50535e" textLength="43.6" lengthAdjust="spacingAndGlyphs">40000.00</text>
<text x="960.5" y="326.6" font-size="11" fill="#50535e" textLength="43.6" lengthAdjust="spacingAndGlyphs">30000.00</text>
<text x="960.5" y="378.4" font-size="11" fill="#50535e" textLength="43.6" lengthAdjust="spacingAndGlyphs">20000.00</text>
<text x="960.5" y="393.1" font-size="11" fill="#50535e" textLength="27.2" lengthAdjust="spacingAndGlyphs">80.00</text>
<text x="960.5" y="427.1" font-size="11" fill="#50535e" textLength="27.2" lengthAdjust="spacingAndGlyphs">60.00</text>
<text x="960.5" y="461.0" font-size="11" fill="#50535e" textLength="27.2" lengthAdjust="spacingAndGlyphs">40.00</text>
<rect x="951.2" y="112.4" width="59.4" height="16.0" rx="1.5" fill="#1b5e20"/>
<text x="960.5" y="124.3" font-size="11" fill="#fff" textLength="43.6" lengthAdjust="spacingAndGlyphs">68000.00</text>
<rect x="951.2" y="128.2" width="59.4" height="16.30000000000001" rx="1.5" fill="#d9ead3"/>
<text x="960.5" y="140.2" font-size="11" fill="#131722" textLength="43.6" lengthAdjust="spacingAndGlyphs">63065.40</text>
<rect x="951.2" y="144.3" width="59.4" height="29.599999999999994" rx="1.5" fill="#26a69a"/>
<text x="960.5" y="156.4" font-size="11" fill="#fff" textLength="43.6" lengthAdjust="spacingAndGlyphs">62807.43</text>
<text x="960.5" y="169.1" font-size="11" fill="#d4efec" textLength="43.6" lengthAdjust="spacingAndGlyphs">02:47:39</text>
<rect x="951.2" y="173.7" width="59.4" height="16.200000000000017" rx="1.5" fill="#d9ead3"/>
<text x="960.5" y="185.7" font-size="11" fill="#131722" textLength="43.6" lengthAdjust="spacingAndGlyphs">61405.30</text>
<rect x="951.2" y="189.7" width="59.4" height="16.30000000000001" rx="1.5" fill="#f44336"/>
<text x="960.5" y="201.8" font-size="11" fill="#fff" textLength="43.6" lengthAdjust="spacingAndGlyphs">57000.00</text>
<rect x="969.8" y="31.2" width="26" height="18" rx="3.5" fill="#fff" stroke="#dfe1e7" stroke-width="1"/>
<text x="983.5" y="44.1" font-size="11" fill="#50535e" text-anchor="middle" textLength="19.5" lengthAdjust="spacingAndGlyphs">USD</text>
<g clip-path="url(#ct)">
<text x="17.3" y="500" font-size="11" fill="#131722" text-anchor="end" font-weight="bold">Jul</text>
<text x="118.7" y="500" font-size="11" fill="#50535e" textLength="9.8" lengthAdjust="spacingAndGlyphs">19</text>
<text x="194.8" y="500" font-size="11" fill="#131722" textLength="20.3" lengthAdjust="spacingAndGlyphs" font-weight="bold">Aug</text>
<text x="294.9" y="500" font-size="11" fill="#50535e" textLength="9.8" lengthAdjust="spacingAndGlyphs">16</text>
<text x="392.2" y="500" font-size="11" fill="#131722" textLength="18.3" lengthAdjust="spacingAndGlyphs" font-weight="bold">Sep</text>
<text x="478.5" y="500" font-size="11" fill="#50535e" textLength="11" lengthAdjust="spacingAndGlyphs">14</text>
<text x="582.2" y="500" font-size="11" fill="#131722" textLength="17.5" lengthAdjust="spacingAndGlyphs" font-weight="bold">Oct</text>
<text x="694.0" y="500" font-size="11" fill="#50535e" textLength="10.1" lengthAdjust="spacingAndGlyphs">18</text>
<text x="776.8" y="500" font-size="11" fill="#131722" textLength="19.9" lengthAdjust="spacingAndGlyphs" font-weight="bold">Nov</text>
<text x="870.9" y="500" font-size="11" fill="#50535e" textLength="10.2" lengthAdjust="spacingAndGlyphs">15</text>
</g>
<text y="18.1" font-size="12.5"><tspan x="9.1" fill="#1e222d" textLength="29.9" lengthAdjust="spacingAndGlyphs">shyna</tspan> <tspan x="43.5" fill="#1e222d" textLength="49.5" lengthAdjust="spacingAndGlyphs">published</tspan> <tspan x="98" fill="#1e222d" textLength="12.1" lengthAdjust="spacingAndGlyphs">on</tspan> <tspan x="115.4" fill="#1e222d" textLength="90.9" lengthAdjust="spacingAndGlyphs">TradingView.com,</tspan> <tspan x="211" fill="#1e222d" textLength="18.2" lengthAdjust="spacingAndGlyphs">Nov</tspan> <tspan x="232.9" fill="#1e222d" textLength="15.4" lengthAdjust="spacingAndGlyphs">07,</tspan> <tspan x="252" fill="#1e222d" textLength="22.4" lengthAdjust="spacingAndGlyphs">2021</tspan> <tspan x="279" fill="#1e222d" textLength="25.8" lengthAdjust="spacingAndGlyphs">21:12</tspan> <tspan x="310.1" fill="#1e222d" textLength="20.1" lengthAdjust="spacingAndGlyphs">UTC</tspan></text>
<text y="43.9" font-size="11.5"><tspan x="17.4" fill="#50535e" textLength="36.6" lengthAdjust="spacingAndGlyphs">Bitcoin</tspan> <tspan x="60" fill="#50535e" textLength="3.4" lengthAdjust="spacingAndGlyphs">/</tspan> <tspan x="68" fill="#50535e" textLength="19.2" lengthAdjust="spacingAndGlyphs">U.S.</tspan> <tspan x="93" fill="#50535e" textLength="30.8" lengthAdjust="spacingAndGlyphs">Dollar,</tspan> <tspan x="129" fill="#50535e" textLength="14.5" lengthAdjust="spacingAndGlyphs">1D,</tspan> <tspan x="148.2" fill="#50535e" textLength="49.8" lengthAdjust="spacingAndGlyphs">COINBASE</tspan> <tspan x="207.1" fill="#50535e" textLength="7.2" lengthAdjust="spacingAndGlyphs">O</tspan> <tspan x="215" fill="#26a69a" textLength="43.2" lengthAdjust="spacingAndGlyphs">61539.30</tspan> <tspan x="267.4" fill="#50535e" textLength="6.3" lengthAdjust="spacingAndGlyphs">H</tspan> <tspan x="274.4" fill="#26a69a" textLength="43.3" lengthAdjust="spacingAndGlyphs">62866.00</tspan> <tspan x="326.9" fill="#50535e" textLength="4.4" lengthAdjust="spacingAndGlyphs">L</tspan> <tspan x="331.9" fill="#26a69a" textLength="43.0" lengthAdjust="spacingAndGlyphs">61397.86</tspan> <tspan x="383.1" fill="#50535e" textLength="6.2" lengthAdjust="spacingAndGlyphs">C</tspan> <tspan x="390" fill="#26a69a" textLength="43.5" lengthAdjust="spacingAndGlyphs">62807.43</tspan> <tspan x="441.8" fill="#26a69a" textLength="43.2" lengthAdjust="spacingAndGlyphs">+1268.12</tspan> <tspan x="490" fill="#26a69a" textLength="40.3" lengthAdjust="spacingAndGlyphs">(+2.06%)</tspan></text>
<g fill="#1e222d"><path d="M9.5 521 H17.3 V530.4 H13.2 V524.7 H9.5 Z"/><circle cx="20.4" cy="522.9" r="1.9"/><path d="M23.8 521 H27.9 L24 530.4 H19.8 Z"/></g>
<text x="31.7" y="530.3" font-size="11.5" fill="#1e222d" textLength="68" lengthAdjust="spacingAndGlyphs">TradingView</text>
</svg>
</body></html>
